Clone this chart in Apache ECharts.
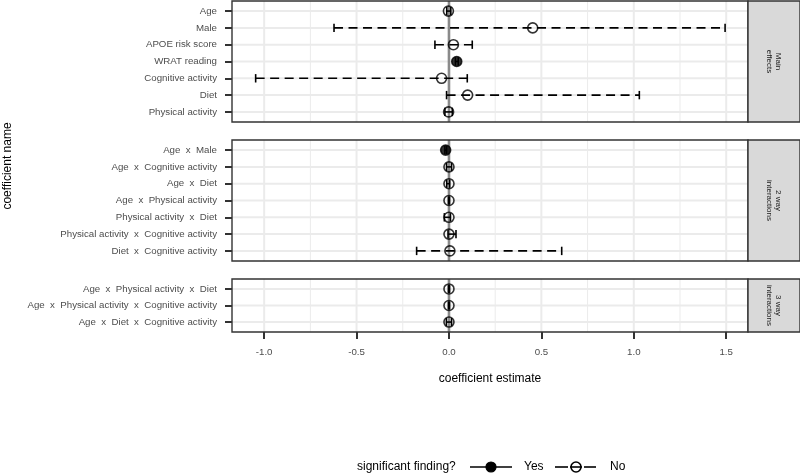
<!DOCTYPE html>
<html>
<head>
<meta charset="utf-8">
<script src="https://cdn.jsdelivr.net/npm/echarts@6/dist/echarts.min.js"></script>
<style>
html, body { margin: 0; padding: 0; background: #fff; }
#chart { width: 800px; height: 474px; }
</style>
</head>
<body>
<div id="chart"></div>
<script>
// coefficient names, estimates, interval ends and significance (1 = yes)
var mainNames = ['Age', 'Male', 'APOE risk score', 'WRAT reading', 'Cognitive activity', 'Diet', 'Physical activity'];
var mainEst = [-0.003, 0.453, 0.024, 0.042, -0.040, 0.101, -0.002];
var mainLo = [-0.012, -0.622, -0.076, 0.035, -1.046, -0.013, -0.022];
var mainHi = [0.010, 1.494, 0.126, 0.050, 0.099, 1.030, 0.018];
var mainSig = [0, 0, 0, 1, 0, 0, 0];

var twoNames = ['Age  x  Male', 'Age  x  Cognitive activity', 'Age  x  Diet', 'Age  x  Physical activity',
    'Physical activity  x  Diet', 'Physical activity  x  Cognitive activity', 'Diet  x  Cognitive activity'];
var twoEst = [-0.018, 0.000, 0.000, 0.000, 0.000, 0.000, 0.005];
var twoLo = [-0.022, -0.013, -0.012, -0.003, -0.025, -0.005, -0.175];
var twoHi = [-0.012, 0.014, 0.004, 0.003, 0.008, 0.038, 0.610];
var twoSig = [1, 0, 0, 0, 0, 0, 0];

var threeNames = ['Age  x  Physical activity  x  Diet', 'Age  x  Physical activity  x  Cognitive activity', 'Age  x  Diet  x  Cognitive activity'];
var threeEst = [0.000, 0.000, 0.000];
var threeLo = [-0.003, -0.003, -0.014];
var threeHi = [0.003, 0.003, 0.014];
var threeSig = [0, 0, 0];

var stripLabels = ['Main\neffects', '2 way\ninteractions', '3 way\ninteractions'];
var xTicks = [-1, -0.5, 0, 0.5, 1, 1.5];
var xMinor = [-0.75, -0.25, 0.25, 0.75, 1.25];

var myChart = echarts.init(document.getElementById('chart'));

var FONT = 'Liberation Sans, Arial, sans-serif';
var X_MIN = -1.174, X_MAX = 1.618;
var LEFT = 232, WIDTH = 516;
var DASH = [9, 5.5];

var panels = [
    { names: mainNames, est: mainEst, lo: mainLo, hi: mainHi, sig: mainSig, top: 1, height: 121 },
    { names: twoNames, est: twoEst, lo: twoLo, hi: twoHi, sig: twoSig, top: 140, height: 121 },
    { names: threeNames, est: threeEst, lo: threeLo, hi: threeHi, sig: threeSig, top: 279, height: 53 }
];

function vLineRender(params, api) {
    var cs = params.coordSys;
    var x = api.coord([api.value(0), 0])[0];
    return {
        type: 'line',
        shape: { x1: x, y1: cs.y, x2: x, y2: cs.y + cs.height },
        style: { stroke: api.value(2) ? '#8a8a8a' : '#ebebeb', lineWidth: api.value(1) }
    };
}

function hLineRender(params, api) {
    var cs = params.coordSys;
    var y = api.coord([0, api.value(1)])[1];
    return {
        type: 'line',
        shape: { x1: cs.x, y1: y, x2: cs.x + cs.width, y2: y },
        style: { stroke: '#ebebeb', lineWidth: 2 }
    };
}

function barRender(params, api) {
    var yv = api.value(2);
    var a = api.coord([api.value(0), yv]);
    var b = api.coord([api.value(1), yv]);
    var cap = Math.abs(api.size([0, 1])[1]) * 0.25;
    var dashed = !api.value(3);
    return {
        type: 'group',
        children: [
            { type: 'line', shape: { x1: a[0], y1: a[1], x2: b[0], y2: b[1] },
              style: { stroke: '#000', lineWidth: 1.6, lineDash: dashed ? DASH : null } },
            { type: 'line', shape: { x1: a[0], y1: a[1] - cap, x2: a[0], y2: a[1] + cap },
              style: { stroke: '#000', lineWidth: 1.6 } },
            { type: 'line', shape: { x1: b[0], y1: b[1] - cap, x2: b[0], y2: b[1] + cap },
              style: { stroke: '#000', lineWidth: 1.6 } }
        ]
    };
}

var grids = [], xAxes = [], yAxes = [], series = [], graphics = [];

panels.forEach(function (p, i) {
    var n = p.names.length;
    var idx = p.names.map(function (d, k) { return k; });
    var last = i === panels.length - 1;

    grids.push({
        left: LEFT, width: WIDTH, top: p.top, height: p.height,
        show: true, borderColor: '#333', borderWidth: 1.4, z: 10
    });

    xAxes.push({
        type: 'value', gridIndex: i, min: X_MIN, max: X_MAX, position: 'bottom',
        axisLine: { show: false, onZero: false },
        splitLine: { show: false },
        axisTick: last ? { customValues: xTicks, length: 7, lineStyle: { color: '#333', width: 2 } } : { show: false },
        axisLabel: last ? {
            customValues: xTicks, color: '#4d4d4d', fontSize: 9.7, fontFamily: FONT, margin: 15,
            formatter: function (v) { return v.toFixed(1); }
        } : { show: false },
        name: last ? 'coefficient estimate' : '',
        nameLocation: 'middle', nameGap: 41,
        nameTextStyle: { color: '#000', fontSize: 12, fontFamily: FONT }
    });

    yAxes.push({
        type: 'value', gridIndex: i, min: -0.6, max: n - 0.4, inverse: true, position: 'left',
        axisLine: { show: false, onZero: false },
        splitLine: { show: false },
        axisTick: { customValues: idx, length: 7, lineStyle: { color: '#333', width: 2 } },
        axisLabel: {
            customValues: idx, color: '#4d4d4d', fontSize: 9.7, fontFamily: FONT, margin: 15,
            formatter: (function (names) { return function (v) { return names[Math.round(v)]; }; })(p.names)
        }
    });

    // grid lines
    var vData = xTicks.map(function (v) { return [v, 2, 0]; })
        .concat(xMinor.map(function (v) { return [v, 1, 0]; }));
    series.push({
        type: 'custom', xAxisIndex: i, yAxisIndex: i, silent: true, z: 1,
        renderItem: vLineRender, data: vData, encode: { x: 0 }
    });
    series.push({
        type: 'custom', xAxisIndex: i, yAxisIndex: i, silent: true, z: 1,
        renderItem: hLineRender, data: idx.map(function (k) { return [0, k]; }), encode: { x: 0, y: 1 }
    });
    // reference line at zero
    series.push({
        type: 'custom', xAxisIndex: i, yAxisIndex: i, silent: true, z: 2,
        renderItem: vLineRender, data: [[0, 2.6, 1]], encode: { x: 0 }
    });

    // error bars
    series.push({
        type: 'custom', xAxisIndex: i, yAxisIndex: i, silent: true, z: 3,
        renderItem: barRender,
        data: idx.map(function (k) { return [p.lo[k], p.hi[k], k, p.sig[k]]; }),
        encode: { x: [0, 1], y: 2 }
    });

    // points
    series.push({
        type: 'scatter', xAxisIndex: i, yAxisIndex: i, z: 4, symbol: 'circle', symbolSize: 10,
        data: idx.map(function (k) {
            return {
                value: [p.est[k], k],
                itemStyle: {
                    color: p.sig[k] ? '#000' : 'rgba(0,0,0,0)',
                    borderColor: '#000', borderWidth: 1.6
                }
            };
        })
    });

    // facet strip
    graphics.push({
        type: 'rect', shape: { x: 748, y: p.top, width: 52, height: p.height },
        style: { fill: '#d9d9d9', stroke: '#333', lineWidth: 1.4 }, z: 10
    });
    graphics.push({
        type: 'text', x: 774, y: p.top + p.height / 2, rotation: -Math.PI / 2, z: 11,
        style: { text: stripLabels[i], fill: '#1a1a1a', fontSize: 8, fontFamily: FONT,
                 align: 'center', verticalAlign: 'middle', lineHeight: 9 }
    });
});

// y axis title
graphics.push({
    type: 'text', x: 8, y: 166, rotation: Math.PI / 2,
    style: { text: 'coefficient name', fill: '#000', fontSize: 12, fontFamily: FONT,
             align: 'center', verticalAlign: 'middle' }
});

// legend
var LY = 467;
graphics.push({
    type: 'group',
    children: [
        { type: 'text', x: 357, y: LY, style: { text: 'significant finding?', fill: '#000', fontSize: 12,
          fontFamily: FONT, align: 'left', verticalAlign: 'middle' } },
        { type: 'line', shape: { x1: 470, y1: LY, x2: 512, y2: LY }, style: { stroke: '#000', lineWidth: 1.6 } },
        { type: 'circle', shape: { cx: 491, cy: LY, r: 5 }, style: { fill: '#000', stroke: '#000', lineWidth: 1.2 } },
        { type: 'text', x: 524, y: LY, style: { text: 'Yes', fill: '#000', fontSize: 12,
          fontFamily: FONT, align: 'left', verticalAlign: 'middle' } },
        { type: 'line', shape: { x1: 555, y1: LY, x2: 568, y2: LY }, style: { stroke: '#000', lineWidth: 1.6 } },
        { type: 'line', shape: { x1: 570, y1: LY, x2: 582, y2: LY }, style: { stroke: '#000', lineWidth: 1.6 } },
        { type: 'line', shape: { x1: 584, y1: LY, x2: 596, y2: LY }, style: { stroke: '#000', lineWidth: 1.6 } },
        { type: 'circle', shape: { cx: 576, cy: LY, r: 5 }, style: { fill: null, stroke: '#000', lineWidth: 1.6 } },
        { type: 'text', x: 610, y: LY, style: { text: 'No', fill: '#000', fontSize: 12,
          fontFamily: FONT, align: 'left', verticalAlign: 'middle' } }
    ]
});

var option = {
    animation: false,
    backgroundColor: '#fff',
    grid: grids,
    xAxis: xAxes,
    yAxis: yAxes,
    series: series,
    graphic: graphics
};

myChart.setOption(option);
</script>
</body>
</html>
